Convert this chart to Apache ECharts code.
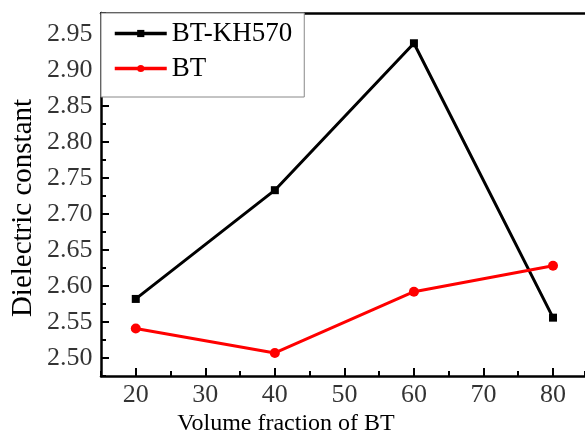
<!DOCTYPE html>
<html>
<head>
<meta charset="utf-8">
<script src="https://cdn.jsdelivr.net/npm/echarts@6/dist/echarts.min.js"></script>
<style>
  html, body { margin: 0; padding: 0; background: #fff; }
  #chart { width: 585px; height: 435px; }
</style>
</head>
<body>
<div id="chart"></div>
<script>
// data
const fractions = [20, 40, 60, 80];
const kh570 = [2.582, 2.733, 2.937, 2.556];
const bt = [2.541, 2.507, 2.592, 2.628];
const xMajor = [20, 30, 40, 50, 60, 70, 80];
const yMajor = [2.50, 2.55, 2.60, 2.65, 2.70, 2.75, 2.80, 2.85, 2.90, 2.95];

const FONT = '"Liberation Serif", "Times New Roman", serif';
const X_MIN = 15, X_MAX = 84.6;
const Y_MIN = 2.475, Y_MAX = 2.979;

const chart = echarts.init(document.getElementById('chart'));

const axisLine = { show: true, lineStyle: { color: '#000', width: 2.5 } };
const tickStyle = { color: '#000', width: 2 };
const labelFont = { fontFamily: FONT, fontSize: 26, color: '#000' };

// the axis labels ignored the serif font here, so tick labels ride on
// invisible scatter points placed through the axes' own scales
const tickLabelSeries = (data, position, distance, fmt) => ({
    type: 'scatter', silent: true, clip: false, z: 1,
    data: data, symbolSize: 1,
    itemStyle: { color: 'rgba(0,0,0,0)' },
    label: Object.assign({ show: true, position: position, distance: distance, formatter: fmt }, labelFont)
});

const option = {
    animation: false,
    grid: { left: 101, top: 13, right: 0, bottom: 59 },
    legend: {
        left: 101,
        top: 13,
        orient: 'vertical',
        backgroundColor: '#fff',
        borderColor: '#888',
        borderWidth: 1,
        padding: [7, 12, 15, 12],
        itemGap: 8,
        itemWidth: 52,
        itemHeight: 9,
        lineStyle: { width: 3.5 },
        textStyle: { fontFamily: FONT, fontSize: 27, color: '#000' },
        data: ['BT-KH570', 'BT']
    },
    xAxis: [
        {
            type: 'value', min: X_MIN, max: X_MAX, interval: 5, position: 'bottom',
            axisLine: axisLine,
            splitLine: { show: false },
            axisTick: { inside: true, length: 5, lineStyle: tickStyle },
            axisLabel: { show: false }
        },
        {
            type: 'value', min: X_MIN, max: X_MAX, position: 'bottom',
            axisLine: { show: false },
            splitLine: { show: false },
            axisTick: { inside: true, length: 8, customValues: xMajor, lineStyle: tickStyle },
            axisLabel: { show: false }
        },
        {
            type: 'value', min: X_MIN, max: X_MAX, position: 'top',
            axisLine: axisLine,
            splitLine: { show: false },
            axisTick: { show: false },
            axisLabel: { show: false }
        }
    ],
    yAxis: [
        {
            type: 'value', min: Y_MIN, max: Y_MAX, interval: 0.025, position: 'left',
            axisLine: axisLine,
            splitLine: { show: false },
            axisTick: { inside: true, length: 5, lineStyle: tickStyle },
            axisLabel: { show: false }
        },
        {
            type: 'value', min: Y_MIN, max: Y_MAX, position: 'left',
            axisLine: { show: false },
            splitLine: { show: false },
            axisTick: { inside: true, length: 8, customValues: yMajor, lineStyle: tickStyle },
            axisLabel: { show: false }
        }
    ],
    graphic: [
        {
            type: 'text', x: 286, y: 424,
            style: { text: 'Volume fraction of BT', font: '24px ' + FONT, fill: '#000', align: 'center', verticalAlign: 'middle' }
        },
        {
            type: 'text', x: 23, y: 208, rotation: Math.PI / 2,
            style: { text: 'Dielectric constant', font: '29px ' + FONT, fill: '#000', align: 'center', verticalAlign: 'middle' }
        }
    ],
    series: [
        {
            name: 'BT-KH570', type: 'line',
            data: fractions.map((f, i) => [f, kh570[i]]),
            symbol: 'rect', symbolSize: 8,
            lineStyle: { color: '#000', width: 3 },
            itemStyle: { color: '#000' }
        },
        {
            name: 'BT', type: 'line',
            data: fractions.map((f, i) => [f, bt[i]]),
            symbol: 'circle', symbolSize: 10,
            lineStyle: { color: '#ff0000', width: 3 },
            itemStyle: { color: '#ff0000' }
        },
        tickLabelSeries(xMajor.map(v => [v, Y_MIN]), 'bottom', 6, p => String(p.value[0])),
        tickLabelSeries(yMajor.map(v => [X_MIN, v]), 'left', 8, p => p.value[1].toFixed(2))
    ]
};

chart.setOption(option);
</script>
</body>
</html>
